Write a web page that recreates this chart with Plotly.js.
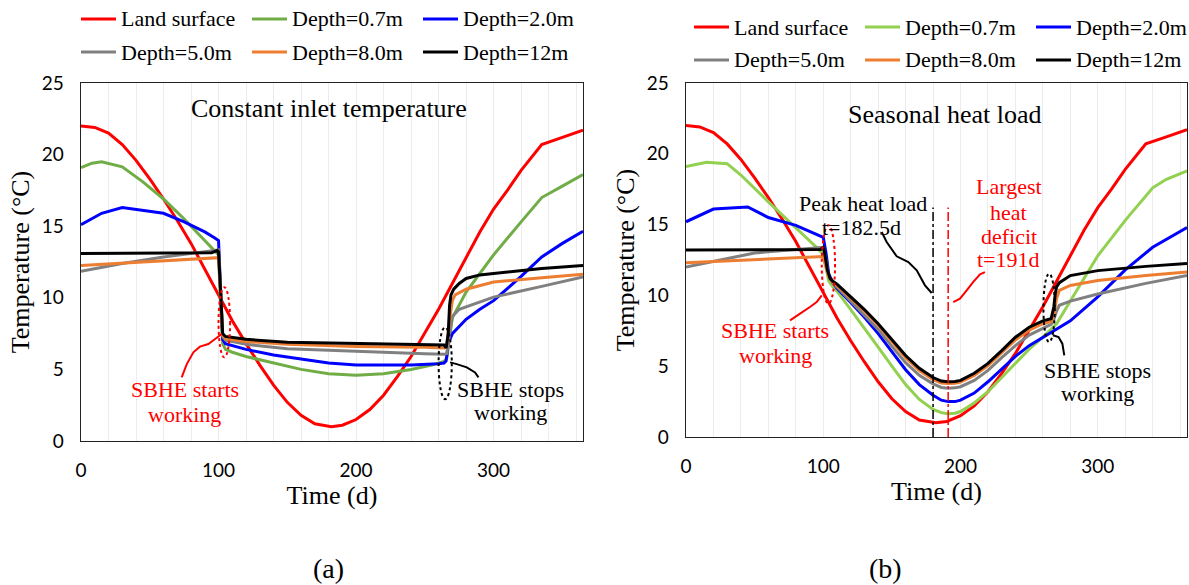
<!DOCTYPE html>
<html><head><meta charset="utf-8">
<script src="https://cdn.plot.ly/plotly-3.0.1.min.js"></script>
<style>html,body{margin:0;padding:0;background:#fff}</style>
</head><body><div id="chart" style="width:1189px;height:585px"></div>
<script>
// ---------- names & colours ----------
const seriesNames = ['Land surface','Depth=0.7m','Depth=2.0m','Depth=5.0m','Depth=8.0m','Depth=12m'];
const colorsA = ['#FF0000','#70AD47','#0000FF','#808080','#ED7D31','#000000'];
const colorsB = ['#FF0000','#92D050','#0000FF','#808080','#ED7D31','#000000'];
const panelTitles = ['Constant inlet temperature','Seasonal heat load'];
const panelLabels = ['(a)','(b)'];
const xTickVals = [0,100,200,300];
const yTickVals = [0,5,10,15,20,25];

// ---------- land surface (same in both panels) ----------
const tLand = [0,10,20,30,40,50,60,70,80,90,100,110,120,130,140,150,160,170,182,190,200,210,220,230,240,250,260,270,280,290,300,310,320,335,350,365];
const vLand = [22.0,21.9,21.5,20.7,19.6,18.3,16.9,15.4,13.8,12.0,10.2,8.4,6.8,5.3,3.9,2.7,1.8,1.2,1.0,1.1,1.5,2.2,3.2,4.5,5.9,7.5,9.2,11.0,12.8,14.6,16.2,17.5,18.9,20.7,21.2,21.7];

// ---------- panel (a): constant inlet temperature ----------
const tA07 = [0,8,15,30,45,60,75,90,100,101.5,103,105,110,120,140,160,180,200,220,240,255,264,266,268,270,280,300,320,335,350,365];
const vA07 = [19.1,19.4,19.5,19.15,18.1,16.9,15.5,14.0,13.0,9.5,6.8,6.4,6.2,5.9,5.45,5.0,4.7,4.6,4.7,5.0,5.3,5.55,5.8,7.3,8.6,10.4,13.0,15.3,17.0,17.8,18.6];
const tA20 = [0,15,30,45,60,75,90,97,100,101.5,103,105,110,120,140,160,180,200,220,240,260,264,265.5,267,270,280,290,300,320,335,350,365];
const vA20 = [15.1,15.9,16.3,16.1,15.9,15.3,14.6,14.2,14.0,10.5,7.1,6.8,6.65,6.4,6.0,5.7,5.45,5.3,5.3,5.3,5.4,5.45,5.6,6.8,7.5,8.5,9.2,9.8,11.5,12.85,13.8,14.65];
const tA50 = [0,30,60,90,100,101.5,103,105,120,150,200,250,264,266,268,270,275,300,335,365];
const vA50 = [11.85,12.4,12.85,13.2,13.35,10.5,7.3,7.05,6.75,6.45,6.25,6.1,6.05,6.1,7.5,8.7,9.2,10.05,10.8,11.45];
const tA80 = [0,50,98,100,101.5,103,105,120,150,200,250,264,266,268,270,272,280,300,335,365];
const vA80 = [12.25,12.5,12.75,12.8,10.5,7.4,7.15,6.95,6.75,6.6,6.55,6.5,6.6,8.5,9.8,10.2,10.6,11.1,11.4,11.65];
const tA12 = [0,50,95,99,100,101.5,103,105,120,150,200,250,264,265.5,267,268,269,271,275,280,290,300,335,365];
const vA12 = [13.1,13.1,13.15,13.3,13.2,10.5,7.5,7.3,7.1,6.9,6.8,6.75,6.7,6.5,7.5,9.5,10.2,10.6,11.0,11.35,11.6,11.7,12.05,12.25];

// ---------- panel (b): seasonal heat load ----------
const tB07 = [0,15,30,40,60,80,95,100,102,104,107,110,120,130,140,150,160,170,180,186,191,196,200,210,220,230,240,250,260,270,280,290,300,320,340,350,365];
const vB07 = [19.1,19.4,19.3,18.5,16.6,14.8,13.4,12.9,12.0,11.0,10.6,10.3,9.0,7.7,6.35,5.0,3.7,2.65,1.95,1.72,1.65,1.68,1.8,2.4,3.2,4.2,5.2,6.2,7.05,8.0,9.6,11.2,12.8,15.3,17.6,18.2,18.8];
const tB20 = [0,20,45,60,80,95,100,102,104,107,110,120,130,140,150,160,170,180,186,191,196,200,210,220,230,240,250,260,270,280,300,320,340,365];
const vB20 = [15.2,16.1,16.25,15.5,14.95,14.3,14.1,13.0,11.5,10.9,10.5,9.5,8.45,7.3,6.0,4.75,3.7,2.95,2.6,2.5,2.5,2.6,3.1,3.9,4.8,5.7,6.45,7.05,7.6,8.2,9.9,11.8,13.4,14.8];
const tB50 = [0,50,100,102,104,107,110,120,130,140,150,160,170,180,186,191,196,200,210,220,230,240,250,260,266,268,270,272,280,300,335,365];
const vB50 = [12.0,13.0,13.4,12.5,11.3,10.9,10.6,9.6,8.65,7.6,6.4,5.25,4.35,3.75,3.5,3.45,3.47,3.55,4.0,4.7,5.6,6.45,7.2,7.7,7.95,8.3,8.9,9.3,9.6,10.1,10.85,11.4];
const tB80 = [0,50,98,100,102,104,107,110,120,130,140,150,160,170,180,186,191,196,200,210,220,230,240,250,260,266,268,270,272,280,300,335,365];
const vB80 = [12.3,12.5,12.7,12.75,12.0,11.3,10.95,10.7,9.8,8.9,7.9,6.75,5.6,4.7,4.05,3.82,3.78,3.8,3.88,4.35,5.05,5.95,6.85,7.55,8.0,8.15,8.6,9.8,10.35,10.7,11.05,11.4,11.65];
const tB12 = [0,50,98,100,101,103,105,107,110,120,130,140,150,160,170,180,186,191,196,200,210,220,230,240,250,260,266,268,269,270,272,280,300,335,365];
const vB12 = [13.2,13.2,13.25,13.4,13.0,11.8,11.2,11.0,10.8,9.9,9.0,8.0,6.85,5.75,4.85,4.2,3.95,3.9,3.92,4.0,4.5,5.2,6.1,7.05,7.75,8.2,8.35,9.2,10.1,10.6,10.9,11.4,11.75,12.05,12.25];

// marker times for panel (b)
const tPeakLoad = 180;
const tLargestDeficit = 191;

const seriesA = [[tLand,vLand],[tA07,vA07],[tA20,vA20],[tA50,vA50],[tA80,vA80],[tA12,vA12]];
const seriesB = [[tLand,vLand],[tB07,vB07],[tB20,vB20],[tB50,vB50],[tB80,vB80],[tB12,vB12]];

const traces = [];
seriesA.forEach((s,i)=>traces.push({x:s[0],y:s[1],name:seriesNames[i],type:'scatter',mode:'lines',
  line:{color:colorsA[i],width:3},xaxis:'x',yaxis:'y',showlegend:false,hoverinfo:'skip'}));
seriesB.forEach((s,i)=>traces.push({x:s[0],y:s[1],name:seriesNames[i],type:'scatter',mode:'lines',
  line:{color:colorsB[i],width:3},xaxis:'x2',yaxis:'y2',showlegend:false,hoverinfo:'skip'}));

const SERIF = 'Liberation Serif, Times New Roman, serif';
const SANS = 'Lato, Carlito, sans-serif';

function xAxis(domain, anchor){
  return {domain:domain, anchor:anchor, range:[0,365], tickvals:xTickVals, ticktext:xTickVals.map(String),
    showgrid:true, gridcolor:'#ececec', gridwidth:1,
    minor:{dtick:20, tick0:0, showgrid:true, gridcolor:'#ececec', gridwidth:1},
    zeroline:false, showline:true, linecolor:'#222', linewidth:1.3, mirror:true, ticks:'',
    ticklabelstandoff:12, tickfont:{family:SANS,size:19,color:'#000'},
    title:{text:'Time (d)', font:{family:SERIF,size:26,color:'#000'}, standoff:1}};
}
function yAxis(domain, anchor){
  return {domain:domain, anchor:anchor, range:[0,25], tickvals:yTickVals, ticktext:yTickVals.map(String),
    showgrid:false, zeroline:false, showline:true, linecolor:'#222', linewidth:1.3, mirror:true, ticks:'',
    ticklabelstandoff:12, tickfont:{family:SANS,size:19,color:'#000'},
    title:{text:'Temperature (°C)', font:{family:SERIF,size:26,color:'#000'}, standoff:4}};
}

const shapes = [];
const annotations = [];
function txt(xref,yref,x,y,text,color,size){
  annotations.push({xref:xref,yref:yref,x:x,y:y,text:text,showarrow:false,
    font:{family:SERIF,size:size||22,color:color||'#000'},xanchor:'center',yanchor:'middle'});
}
function poly(xref,yref,pts,color){
  let p = 'M '+pts[0][0]+' '+pts[0][1];
  for(let i=1;i<pts.length;i++) p += ' L '+pts[i][0]+' '+pts[i][1];
  shapes.push({type:'path',xref:xref,yref:yref,path:p,line:{color:color,width:2},fillcolor:'rgba(0,0,0,0)'});
}
function ellipse(xref,yref,x0,x1,y0,y1,color){
  shapes.push({type:'circle',xref:xref,yref:yref,x0:x0,x1:x1,y0:y0,y1:y1,line:{color:color,width:2,dash:'dot'}});
}

// ---- legends (manual, 3 columns x 2 rows per panel) ----
function legend(x0, rowY, colorArr){
  const colW = 171;
  seriesNames.forEach((n,i)=>{
    const c = i%3, r = Math.floor(i/3);
    const lx = x0 + c*colW, ly = rowY[r];
    shapes.push({type:'line',xref:'paper',yref:'paper',x0:lx/1189,x1:(lx+35)/1189,y0:1-ly/585,y1:1-ly/585,
      line:{color:colorArr[i],width:3}});
    annotations.push({xref:'paper',yref:'paper',x:(lx+38)/1189,y:1-ly/585,text:n,showarrow:false,
      font:{family:SERIF,size:22,color:'#000'},xanchor:'left',yanchor:'middle'});
  });
}
legend(81,[19,52],colorsA);
legend(694,[27,60],colorsB);

// ---- panel (a) annotations ----
txt('x','y',180,23.25,panelTitles[0],'#000',26);
txt('x','y',75.5,3.62,'SBHE starts','#FF0000',22);
txt('x','y',75.5,1.87,'working','#FF0000',22);
ellipse('x','y',100,108.4,5.84,10.74,'#FF0000');
poly('x','y',[[73.2,4.44],[76.9,5.37],[81.7,6.19],[86.5,6.59],[92.6,6.77],[97.5,7.12],[102.3,7.47]],'#FF0000');
txt('x','y',312,3.62,'SBHE stops','#000',22);
txt('x','y',312,1.98,'working','#000',22);
ellipse('x','y',260,269.6,2.92,7.94,'#000');
poly('x','y',[[268.4,5.49],[273.2,5.37],[280.5,5.14],[286.5,4.79],[289,4.44]],'#000');

// ---- panel (b) annotations ----
txt('x2','y2',189,22.8,panelTitles[1],'#000',26);
shapes.push({type:'line',xref:'x2',yref:'y2',x0:tPeakLoad,x1:tPeakLoad,y0:0,y1:16.2,line:{color:'#000',width:1.5,dash:'dashdot'}});
shapes.push({type:'line',xref:'x2',yref:'y2',x0:tLargestDeficit,x1:tLargestDeficit,y0:0,y1:16.2,line:{color:'#FF0000',width:1.5,dash:'dashdot'}});
txt('x2','y2',129,16.48,'Peak heat load','#000',22);
txt('x2','y2',128,14.79,'t=182.5d','#000',22);
poly('x2','y2',[[142.6,14.48],[146.2,13.77],[153.5,12.76],[162.0,12.36],[168.1,11.77],[174.1,10.71],[179.0,10.17]],'#000');
txt('x2','y2',235,17.72,'Largest','#FF0000',22);
txt('x2','y2',235,15.89,'heat','#FF0000',22);
txt('x2','y2',235,14.18,'deficit','#FF0000',22);
txt('x2','y2',235,12.54,'t=191d','#FF0000',22);
poly('x2','y2',[[217.8,11.65],[214.2,11.49],[209.3,10.95],[204.5,10.36],[199.6,9.77],[194.7,9.53]],'#FF0000');
ellipse('x2','y2',98.9,108.6,9.42,14.95,'#FF0000');
poly('x2','y2',[[75.8,8.24],[83.1,8.71],[90.3,9.18],[95.2,9.53],[98.9,10.0]],'#FF0000');
txt('x2','y2',65.2,7.53,'SBHE starts','#FF0000',22);
txt('x2','y2',65.2,5.77,'working','#FF0000',22);
ellipse('x2','y2',260.4,268.7,6.71,11.53,'#000');
poly('x2','y2',[[267.3,7.18],[271.4,7.06],[274.2,6.59],[275.6,5.77]],'#000');
txt('x2','y2',299.8,4.71,'SBHE stops','#000',22);
txt('x2','y2',299.8,3.06,'working','#000',22);

// ---- sub-figure labels ----
annotations.push({xref:'paper',yref:'paper',x:328/1189,y:1-568/585,text:panelLabels[0],showarrow:false,
  font:{family:SERIF,size:28,color:'#000'},xanchor:'center',yanchor:'middle'});
annotations.push({xref:'paper',yref:'paper',x:885/1189,y:1-568/585,text:panelLabels[1],showarrow:false,
  font:{family:SERIF,size:28,color:'#000'},xanchor:'center',yanchor:'middle'});

const layout = {
  width:1189, height:585, margin:{l:0,r:0,t:0,b:0},
  paper_bgcolor:'#fff', plot_bgcolor:'#fff', showlegend:false,
  xaxis: xAxis([81/1189, 583/1189],'y'),
  yaxis: yAxis([(585-441)/585, (585-83)/585],'x'),
  xaxis2: xAxis([686/1189, 1187/1189],'y2'),
  yaxis2: yAxis([(585-437)/585, (585-83)/585],'x2'),
  shapes: shapes, annotations: annotations
};
Plotly.newPlot('chart', traces, layout, {staticPlot:true, displayModeBar:false});
</script></body></html>
